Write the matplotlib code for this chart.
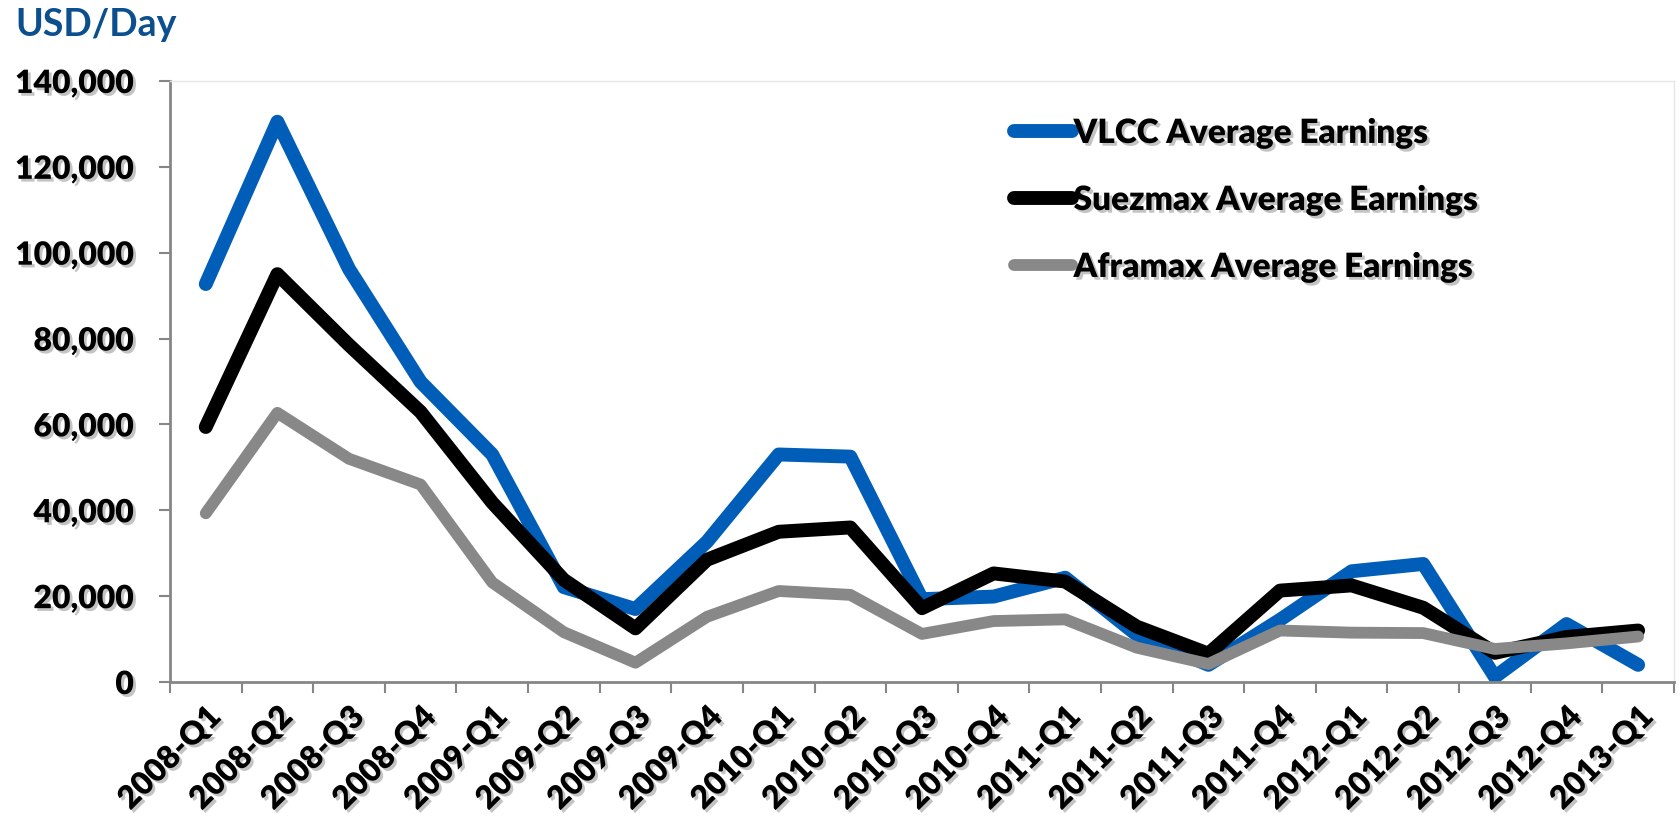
#!/usr/bin/env python3
"""Tanker average earnings by quarter, 2008-Q1 to 2013-Q1 (USD/Day)."""

import matplotlib
matplotlib.use("Agg")
import matplotlib.pyplot as plt
import matplotlib.patheffects as pe
from matplotlib.ticker import FuncFormatter

quarters = ["2008-Q1", "2008-Q2", "2008-Q3", "2008-Q4",
            "2009-Q1", "2009-Q2", "2009-Q3", "2009-Q4",
            "2010-Q1", "2010-Q2", "2010-Q3", "2010-Q4",
            "2011-Q1", "2011-Q2", "2011-Q3", "2011-Q4",
            "2012-Q1", "2012-Q2", "2012-Q3", "2012-Q4",
            "2013-Q1"]

vlcc     = [92700, 130500, 96200, 69900, 53000, 22100, 17000, 32700,
            53000, 52500, 19300, 19900, 24300, 11000, 4000, 14500,
            25800, 27500, 1200, 13500, 4000]
suezmax  = [59400, 95000, 78500, 62900, 41800, 23800, 12500, 28500,
            35000, 36000, 17200, 25300, 23400, 12900, 6600, 21300,
            22500, 17300, 6800, 10500, 12000]
aframax  = [39300, 62700, 52000, 46000, 23200, 11600, 4500, 15200,
            21200, 20300, 11200, 14200, 14600, 8000, 4200, 12000,
            11500, 11400, 7700, 9000, 10600]

series = [
    ("VLCC Average Earnings",    vlcc,    "#005EB8", 10.0),
    ("Suezmax Average Earnings", suezmax, "#000000", 10.0),
    ("Aframax Average Earnings", aframax, "#888888", 8.5),
]

FONT = "Lato"
WEIGHT = "heavy"
AXIS_GREY = "#868686"
shadow = [pe.SimplePatchShadow(offset=(2, -2), shadow_rgbFace="#555555", alpha=0.35),
          pe.Normal()]

fig = plt.figure(figsize=(16.81, 8.26), dpi=100)
ax = fig.add_axes([0.1011, 0.1743, 0.8947, 0.7277])

x = list(range(len(quarters)))
for label, vals, color, lw in series:
    ax.plot(x, vals, color=color, lw=lw, label=label,
            solid_capstyle="round", solid_joinstyle="round")

ax.set_xlim(-0.5, len(quarters) - 0.5)
ax.set_ylim(0, 140000)
ax.set_yticks(range(0, 140001, 20000))
ax.yaxis.set_major_formatter(FuncFormatter(lambda v, _: f"{int(v):,}"))

# x ticks at category boundaries, labels centred on categories
ax.set_xticks([i - 0.5 for i in range(len(quarters) + 1)])
ax.set_xticklabels([])
ax.set_xticks(x, minor=True)
ax.set_xticklabels(quarters, minor=True, rotation=45, ha="right",
                   rotation_mode="anchor", fontsize=23, fontweight=WEIGHT,
                   family=FONT)
ax.tick_params(axis="x", which="minor", length=0, pad=14)
ax.tick_params(axis="x", which="major", length=8, width=1.5, color=AXIS_GREY)
ax.tick_params(axis="y", length=8, width=1.5, color=AXIS_GREY, pad=18)
for t in ax.get_yticklabels():
    t.set_fontsize(23)
    t.set_fontweight(WEIGHT)
    t.set_family(FONT)
for t in ax.get_yticklabels() + ax.get_xticklabels(minor=True):
    t.set_path_effects(shadow)

for side in ("left", "bottom"):
    ax.spines[side].set_color(AXIS_GREY)
    ax.spines[side].set_linewidth(2)
    ax.spines[side].set_path_effects(shadow)
for side in ("top", "right"):
    ax.spines[side].set_color("#e6e6e6")
    ax.spines[side].set_linewidth(1)

leg = ax.legend(loc="upper left", bbox_to_anchor=(0.541, 0.99), frameon=False,
                handlelength=1.75, handletextpad=0.05, labelspacing=1.05,
                prop={"family": FONT, "weight": WEIGHT, "size": 24})
for t in leg.get_texts():
    t.set_path_effects(shadow)
for h in leg.get_lines():
    h.set_solid_capstyle("round")

fig.text(0.009, 1 - 36 / 826, "USD/Day", color="#0B4F8E", fontsize=27,
         fontweight="bold", family=FONT, va="baseline", ha="left")

fig.savefig("out.png", dpi=100)
